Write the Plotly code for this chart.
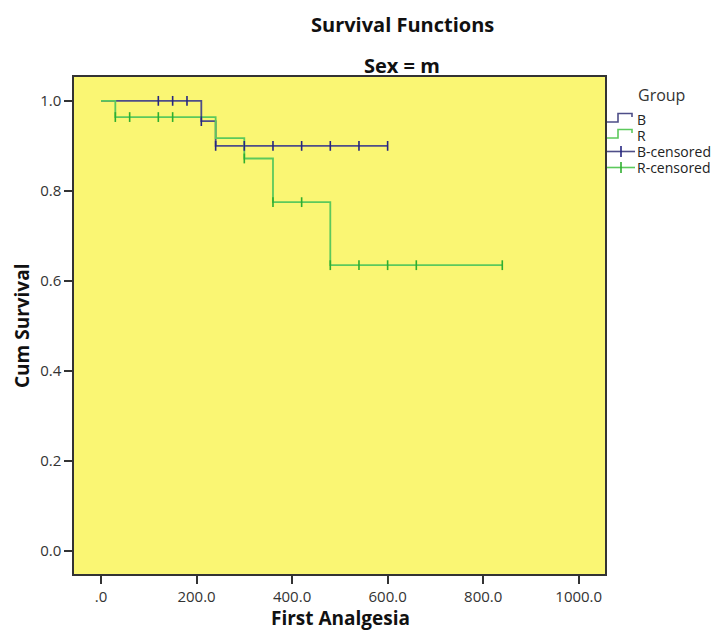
import plotly.graph_objects as go

# B group step curve (time, survival)
b_time = [0, 210, 240, 600]
b_surv = [1.0, 0.955, 0.90, 0.90]
# B censored
b_cens_time = [120, 150, 180, 210, 240, 300, 360, 420, 480, 540, 600]
b_cens_surv = [1.0, 1.0, 1.0, 0.955, 0.90, 0.90, 0.90, 0.90, 0.90, 0.90, 0.90]

# R group step curve
r_time = [0, 30, 240, 300, 360, 480, 840]
r_surv = [1.0, 0.964, 0.917, 0.872, 0.775, 0.635, 0.635]
# R censored
r_cens_time = [30, 60, 120, 150, 300, 360, 420, 480, 540, 600, 660, 840]
r_cens_surv = [0.964, 0.964, 0.964, 0.964, 0.872, 0.775, 0.775, 0.635, 0.635, 0.635, 0.635, 0.635]

x_ticks = [0, 200, 400, 600, 800, 1000]
x_tick_labels = [".0", "200.0", "400.0", "600.0", "800.0", "1000.0"]
y_ticks = [0.0, 0.2, 0.4, 0.6, 0.8, 1.0]
y_tick_labels = ["0.0", "0.2", "0.4", "0.6", "0.8", "1.0"]

legend_labels = ["B", "R", "B-censored", "R-censored"]

B_LINE = "#4e4e88"
B_MARK = "#262680"
R_LINE = "#5cc95c"
R_MARK = "#2fae2f"
FONT = "Open Sans"

W, H = 715, 632
L, T, RM, BM = 74, 77, 110, 58
PW = W - L - RM
PH = H - T - BM


def px_x(px):
    return (px - L) / PW


def px_y(py):
    return (H - BM - py) / PH


fig = go.Figure()
fig.add_trace(go.Scatter(x=b_time, y=b_surv, mode="lines", line=dict(color=B_LINE, width=1.8, shape="hv"),
                         name="B", showlegend=False))
fig.add_trace(go.Scatter(x=r_time, y=r_surv, mode="lines", line=dict(color=R_LINE, width=1.8, shape="hv"),
                         name="R", showlegend=False))
fig.add_trace(go.Scatter(x=b_cens_time, y=b_cens_surv, mode="markers",
                         marker=dict(symbol="line-ns", size=7, line=dict(color=B_MARK, width=1.6)),
                         name="B-censored", showlegend=False))
fig.add_trace(go.Scatter(x=r_cens_time, y=r_cens_surv, mode="markers",
                         marker=dict(symbol="line-ns", size=7, line=dict(color=R_MARK, width=1.6)),
                         name="R-censored", showlegend=False))

shapes = []
annotations = []

# Titles
annotations.append(dict(text="<b>Survival Functions</b>", xref="paper", yref="paper", x=px_x(402), y=px_y(24),
                        showarrow=False, font=dict(size=20, color="#111111", family=FONT),
                        xanchor="center", yanchor="middle"))
annotations.append(dict(text="<b>Sex = m</b>", xref="paper", yref="paper", x=px_x(402), y=px_y(65),
                        showarrow=False, font=dict(size=20, color="#111111", family=FONT),
                        xanchor="center", yanchor="middle"))
# Axis titles
annotations.append(dict(text="<b>First Analgesia</b>", xref="paper", yref="paper", x=px_x(340), y=px_y(618),
                        showarrow=False, font=dict(size=19, color="#111111", family=FONT),
                        xanchor="center", yanchor="middle"))
annotations.append(dict(text="<b>Cum Survival</b>", xref="paper", yref="paper", x=px_x(22), y=px_y(326),
                        showarrow=False, textangle=-90, font=dict(size=19, color="#111111", family=FONT),
                        xanchor="center", yanchor="middle"))

# Manual legend
annotations.append(dict(text="Group", xref="paper", yref="paper", x=px_x(636), y=px_y(95),
                        showarrow=False, font=dict(size=16, color="#333333", family=FONT),
                        xanchor="left", yanchor="middle"))
legend_y = [119.5, 135.5, 151.5, 167.5]
legend_cols = [(B_LINE, B_MARK), (R_LINE, R_MARK), (B_LINE, B_MARK), (R_LINE, R_MARK)]
for i, (lab, yc, (lc, mc)) in enumerate(zip(legend_labels, legend_y, legend_cols)):
    annotations.append(dict(text=lab, xref="paper", yref="paper", x=px_x(635), y=px_y(yc),
                            showarrow=False, font=dict(size=14, color="#222222", family=FONT),
                            xanchor="left", yanchor="middle", height=15, valign="middle"))
    if i < 2:
        path = "M {},{} L {},{} L {},{} L {},{} L {},{}".format(
            px_x(607), px_y(yc + 2.5), px_x(618), px_y(yc + 2.5), px_x(618), px_y(yc - 6),
            px_x(632), px_y(yc - 6), px_x(632), px_y(yc - 2.5))
        shapes.append(dict(type="path", xref="paper", yref="paper", path=path,
                           line=dict(color=lc, width=1.6)))
    else:
        shapes.append(dict(type="line", xref="paper", yref="paper", x0=px_x(607), x1=px_x(635),
                           y0=px_y(yc), y1=px_y(yc), line=dict(color=lc, width=1.6)))
        shapes.append(dict(type="line", xref="paper", yref="paper", x0=px_x(621), x1=px_x(621),
                           y0=px_y(yc - 5.5), y1=px_y(yc + 5.5), line=dict(color=mc, width=1.6)))

fig.update_layout(
    width=W, height=H,
    margin=dict(l=L, r=RM, t=T, b=BM, autoexpand=False),
    paper_bgcolor="white",
    plot_bgcolor="#faf673",
    font=dict(family=FONT, color="#333333", size=15),
    showlegend=False,
    shapes=shapes,
    annotations=annotations,
)
fig.update_xaxes(
    range=[-56.5, 1055], tickvals=x_ticks, ticktext=x_tick_labels,
    showgrid=False, zeroline=False, ticks="outside", ticklen=8, tickcolor="#333333", tickwidth=1.5,
    showline=True, linecolor="#333333", linewidth=1.5, mirror=True, automargin=False,
    tickfont=dict(size=15, color="#333333"),
)
fig.update_yaxes(
    range=[-0.051, 1.053], tickvals=y_ticks, ticktext=y_tick_labels,
    showgrid=False, zeroline=False, ticks="outside", ticklen=8, tickcolor="#333333", tickwidth=1.5,
    showline=True, linecolor="#333333", linewidth=1.5, mirror=True, automargin=False,
    tickfont=dict(size=15, color="#333333"),
)

fig.write_html("out.html", config={"displayModeBar": False},
               post_script="document.body.style.margin='0px';")
